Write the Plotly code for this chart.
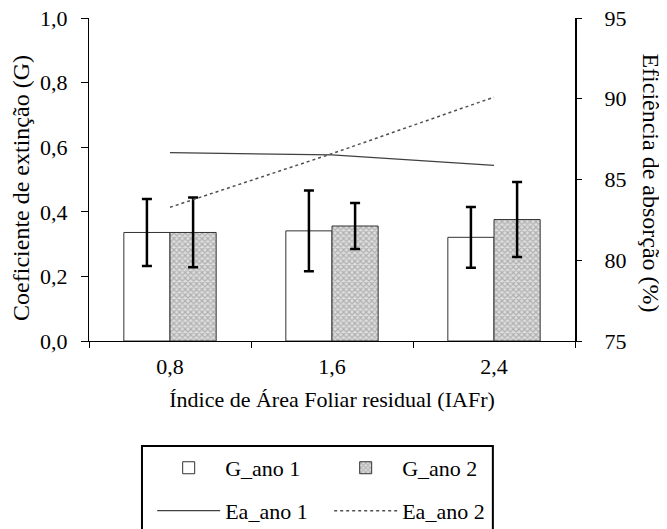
import plotly.graph_objects as go

categories = ["0,8", "1,6", "2,4"]
g_ano1 = [0.336, 0.341, 0.321]
g_ano1_err = [0.104, 0.125, 0.094]
g_ano2 = [0.336, 0.356, 0.376]
g_ano2_err = [0.108, 0.071, 0.116]
ea_ano1 = [86.66, 86.52, 85.88]
ea_ano2 = [83.28, 86.6, 90.1]

FONT = "Liberation Serif, Times New Roman, serif"

fig = go.Figure()
fig.add_trace(go.Bar(
    x=categories, y=g_ano1, name="G_ano 1",
    marker=dict(color="white", line=dict(color="#333333", width=1)),
    error_y=dict(type="data", array=g_ano1_err, color="black", thickness=2.5, width=5),
    legend="legend",
))
fig.add_trace(go.Bar(
    x=categories, y=g_ano2, name="G_ano 2",
    marker=dict(color="#c8c8c8", line=dict(color="#333333", width=1),
                pattern=dict(shape="x", size=4, fgcolor="#808080", bgcolor="#dedede", solidity=0.5)),
    error_y=dict(type="data", array=g_ano2_err, color="black", thickness=2.5, width=5),
    legend="legend",
))
fig.add_trace(go.Scatter(
    x=categories, y=ea_ano1, name="Ea_ano 1", yaxis="y2", mode="lines",
    line=dict(color="#404040", width=1.2), legend="legend2",
))
fig.add_trace(go.Scatter(
    x=categories, y=ea_ano2, name="Ea_ano 2", yaxis="y2", mode="lines",
    line=dict(color="#505050", width=1.5, dash="dot"), legend="legend2",
))

fig.update_layout(
    width=667, height=529,
    margin=dict(l=81, r=100, t=10, b=196, autoexpand=False),
    paper_bgcolor="white", plot_bgcolor="white",
    font=dict(family=FONT, size=22, color="black"),
    separators=", ",
    barmode="group", bargap=0.43, bargroupgap=0,
    showlegend=True,
    xaxis=dict(
        type="category", tickson="boundaries", ticks="outside", ticklen=6,
        tickcolor="black", showline=True, linecolor="black", linewidth=1.2,
        showgrid=False, range=[-0.5, 2.5], ticklabelstandoff=5,
        ticklabeloverflow="allow",
        title=dict(text="Índice de Área Foliar residual (IAFr)", font=dict(size=22), standoff=14),
    ),
    yaxis=dict(
        range=[0, 1], dtick=0.2, tickformat=".1f", ticks="outside", ticklen=7,
        tickcolor="black", showline=True, linecolor="black", linewidth=1.2,
        showgrid=False, zeroline=False, ticklabelstandoff=9,
        ticklabeloverflow="allow",
    ),
    yaxis2=dict(
        range=[75, 95], dtick=5, overlaying="y", side="right", anchor="x",
        ticks="outside", ticklen=5, tickcolor="black", showline=True,
        linecolor="black", linewidth=2, showgrid=False, zeroline=False,
        ticklabelstandoff=18, ticklabeloverflow="allow",
    ),
    legend=dict(
        orientation="h", x=0.13, xanchor="left", y=-0.393, yanchor="middle",
        entrywidth=99, entrywidthmode="pixels", font=dict(size=22),
        itemwidth=63, borderwidth=0, bgcolor="rgba(0,0,0,0)",
    ),
    legend2=dict(
        orientation="h", x=0.13, xanchor="left", y=-0.526, yanchor="middle",
        entrywidth=99, entrywidthmode="pixels", font=dict(size=22),
        itemwidth=63, borderwidth=0, bgcolor="rgba(0,0,0,0)",
    ),
    shapes=[dict(type="rect", xref="paper", yref="paper",
                 x0=0.109, x1=0.831, y0=-0.325, y1=-0.65,
                 line=dict(color="black", width=2), fillcolor="rgba(0,0,0,0)")],
    annotations=[
        dict(text="Coeficiente de extinção (G)", textangle=-90, showarrow=False,
             xref="paper", yref="paper", x=0.0, xshift=-68, y=0.474,
             xanchor="center", yanchor="middle", font=dict(size=24)),
        dict(text="Eficiência de absorção (%)", textangle=90, showarrow=False,
             xref="paper", yref="paper", x=1.0, xshift=76, y=0.491,
             xanchor="center", yanchor="middle", font=dict(size=24)),
    ],
)

fig.write_html("out.html")
